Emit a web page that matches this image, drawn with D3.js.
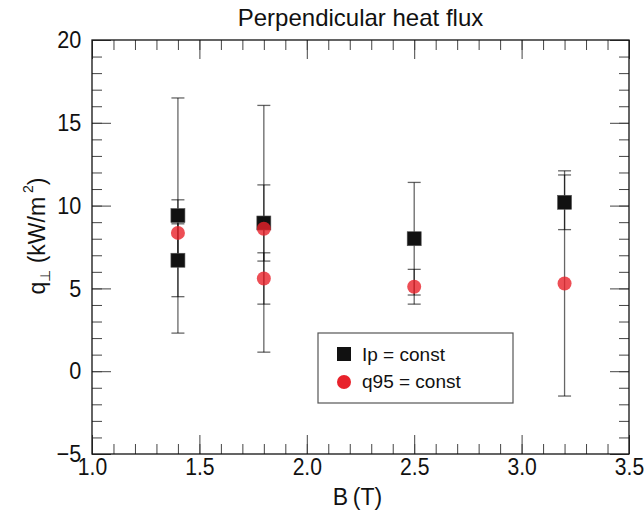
<!DOCTYPE html>
<html>
<head>
<meta charset="utf-8">
<script src="https://cdn.jsdelivr.net/npm/d3@7"></script>
<style>
  html, body { margin: 0; padding: 0; background: #fff; }
  svg { display: block; font-family: "Liberation Sans", Arial, Helvetica, sans-serif; }
</style>
</head>
<body>
<svg id="chart" width="644" height="517"></svg>
<script>
// Magnetic field values (T) for each series
const ipB    = [1.4, 1.4, 1.8, 2.5, 3.2];
const ipQ    = [9.4, 6.7, 8.95, 8.0, 10.2];
const ipErr  = [7.1, 2.2, 2.3, 3.4, 1.65];

const q95B   = [1.4, 1.8, 1.8, 2.5, 3.2];
const q95Q   = [8.35, 8.6, 5.6, 5.1, 5.3];
const q95Err = [2.0, 7.45, 1.55, 1.05, 6.8];

const xMajor = [1.0, 1.5, 2.0, 2.5, 3.0, 3.5];
const yMajor = [-5, 0, 5, 10, 15, 20];
const seriesNames = ["Ip = const", "q95 = const"];

const ipPts  = ipB.map((b, i) => ({b, q: ipQ[i], e: ipErr[i]}));
const q95Pts = q95B.map((b, i) => ({b, q: q95Q[i], e: q95Err[i]}));

const svg = d3.select("#chart");
const L = 92, R = 629, T = 40, B = 454;
const x = d3.scaleLinear().domain([1.0, 3.5]).range([L, R]);
const y = d3.scaleLinear().domain([-5, 20]).range([B, T]);

const xMinor = d3.range(1.0, 3.5001, 0.1).map(v => +v.toFixed(2));
const yMinor = d3.range(-5, 20.001, 1);
const MIN = 10, MAJ = 19;
const fmtX = d3.format(".1f");
const fmtY = v => (v < 0 ? "\u2212" + Math.abs(v) : String(v));

// Inward ticks on all four sides
function tickLayer(axisFn, scale, values, size, transform) {
  const g = svg.append("g").attr("transform", transform)
    .call(axisFn(scale).tickValues(values).tickSize(size).tickFormat(""));
  g.select(".domain").remove();
  g.selectAll("line").attr("stroke", "#444").attr("stroke-width", 1);
  return g;
}
tickLayer(d3.axisBottom, x, xMinor, -MIN, `translate(0,${B})`);
tickLayer(d3.axisBottom, x, xMajor, -MAJ, `translate(0,${B})`);
tickLayer(d3.axisTop, x, xMinor, -MIN, `translate(0,${T})`);
tickLayer(d3.axisTop, x, xMajor, -MAJ, `translate(0,${T})`);
tickLayer(d3.axisLeft, y, yMinor, -MIN, `translate(${L},0)`);
tickLayer(d3.axisLeft, y, yMajor, -MAJ, `translate(${L},0)`);
tickLayer(d3.axisRight, y, yMinor, -MIN, `translate(${R},0)`);
tickLayer(d3.axisRight, y, yMajor, -MAJ, `translate(${R},0)`);

// Tick labels (slightly narrowed glyphs)
const xl = svg.append("g").attr("transform", `translate(0,${B})`)
  .call(d3.axisBottom(x).tickValues(xMajor).tickSize(0).tickPadding(4).tickFormat(fmtX));
xl.select(".domain").remove();
xl.selectAll("text").attr("font-size", 24).attr("fill", "#111")
  .attr("font-family", "Liberation Sans, Arial, sans-serif")
  .attr("transform", "scale(0.88,1)");

const yl = svg.append("g").attr("transform", `translate(${L},0)`)
  .call(d3.axisLeft(y).tickValues(yMajor).tickSize(0).tickPadding(12).tickFormat(fmtY));
yl.select(".domain").remove();
yl.selectAll("text").attr("font-size", 24).attr("fill", "#111")
  .attr("font-family", "Liberation Sans, Arial, sans-serif")
  .attr("transform", "scale(0.9,1)");

// Frame
svg.append("rect").attr("x", L).attr("y", T).attr("width", R - L).attr("height", B - T)
  .attr("fill", "none").attr("stroke", "#111").attr("stroke-width", 1.3);

// Error bars
const CAP = 6.5;
function errorBars(pts) {
  const g = svg.append("g").attr("stroke", "#000").attr("stroke-opacity", 0.6).attr("stroke-width", 1.3);
  pts.forEach(p => {
    const cx = x(p.b), y0 = y(p.q - p.e), y1 = y(p.q + p.e);
    g.append("line").attr("x1", cx).attr("x2", cx).attr("y1", y0).attr("y2", y1);
    g.append("line").attr("x1", cx - CAP).attr("x2", cx + CAP).attr("y1", y0).attr("y2", y0);
    g.append("line").attr("x1", cx - CAP).attr("x2", cx + CAP).attr("y1", y1).attr("y2", y1);
  });
}
errorBars(ipPts);
errorBars(q95Pts);

// Markers
const SQ = 14, RAD = 7;
svg.append("g").selectAll("rect").data(ipPts).join("rect")
  .attr("x", d => x(d.b) - SQ / 2).attr("y", d => y(d.q) - SQ / 2)
  .attr("width", SQ).attr("height", SQ)
  .attr("fill", "#111").attr("stroke", "#555").attr("stroke-width", 0.6);

svg.append("g").selectAll("circle").data(q95Pts).join("circle")
  .attr("cx", d => x(d.b)).attr("cy", d => y(d.q)).attr("r", RAD)
  .attr("fill", "#e8222b").attr("fill-opacity", 0.8);

// Title
svg.append("text").attr("x", (L + R) / 2).attr("y", 26).attr("text-anchor", "middle")
  .attr("font-size", 24).attr("fill", "#111").text("Perpendicular heat flux");

// Axis titles
svg.append("text").attr("x", (L + R) / 2 - 3).attr("y", 505).attr("text-anchor", "middle")
  .attr("font-size", 23).attr("fill", "#111").text("B\u2009(T)");

const yt = svg.append("text").attr("transform", "translate(45,236) rotate(-90)")
  .attr("text-anchor", "middle").attr("font-size", 23).attr("fill", "#111");
yt.append("tspan").text("q");
yt.append("tspan").attr("font-size", 14).attr("dy", 5).text("\u22a5");
yt.append("tspan").attr("dy", -5).text("  (kW/m");
yt.append("tspan").attr("font-size", 14).attr("dy", -12).text(" 2");
yt.append("tspan").attr("dy", 12).text(")");

// Legend
const lg = svg.append("g");
lg.append("rect").attr("x", 318).attr("y", 333).attr("width", 195).attr("height", 70)
  .attr("fill", "#fff").attr("stroke", "#555").attr("stroke-width", 1.2);
lg.append("rect").attr("x", 337).attr("y", 347).attr("width", 14).attr("height", 14).attr("fill", "#111");
lg.append("circle").attr("cx", 344).attr("cy", 382).attr("r", 7).attr("fill", "#e8222b");
lg.selectAll("text.lbl").data(seriesNames).join("text").attr("class", "lbl")
  .attr("x", 362).attr("y", (d, i) => 361 + i * 27)
  .attr("font-size", 19).attr("fill", "#111").text(d => d);
</script>
</body>
</html>
